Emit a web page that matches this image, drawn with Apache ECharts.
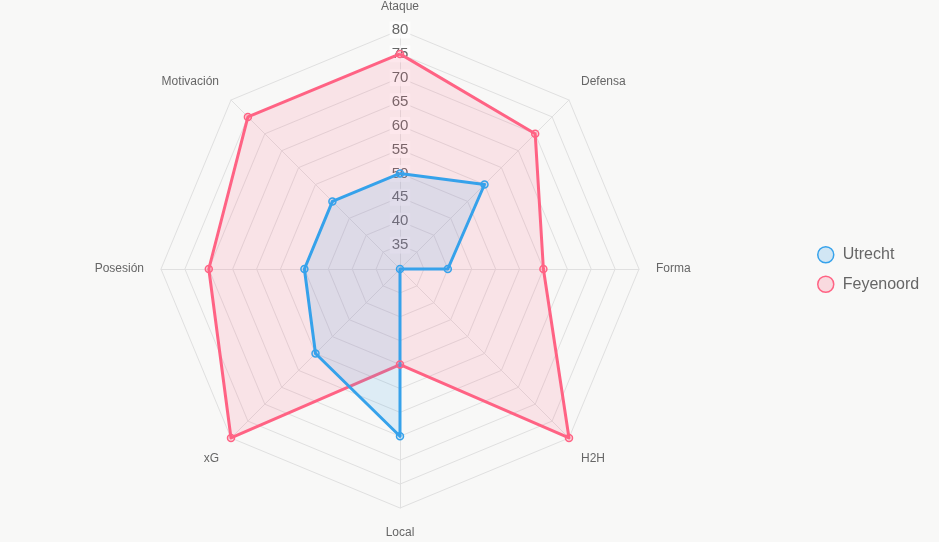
<!DOCTYPE html>
<html>
<head>
<meta charset="utf-8">
<script src="https://cdn.jsdelivr.net/npm/echarts@6/dist/echarts.min.js"></script>
<style>
  html, body { margin: 0; padding: 0; background: #f8f8f7; }
  #main { width: 939px; height: 542px; }
</style>
</head>
<body>
<div id="main"></div>
<script>
// indicator order counter-clockwise from the top (ECharts radar goes ccw)
var categories = ['Ataque', 'Motivación', 'Posesión', 'xG', 'Local', 'H2H', 'Forma', 'Defensa'];
var utrecht   = [50, 50, 50, 55, 65, 30, 40, 55];
var feyenoord = [75, 75, 70, 80, 50, 80, 60, 70];
var scaleMin = 30, scaleMax = 80;

var blue = '#36a2eb', pink = '#ff6384';
var font = 'Liberation Sans, Arial, sans-serif';

// label nudges so the diagonal names sit like the original
var nameStyleKey = {
  'Motivación': 'up', 'Defensa': 'up',
  'xG': 'dn', 'H2H': 'dn',
  'Local': 'dn2'
};

var myChart = echarts.init(document.getElementById('main'));

var indicators = categories.map(function (name, i) {
  var ind = { name: name, min: scaleMin, max: scaleMax };
  if (i === 0) {
    ind.axisLabel = {
      show: true,
      showMinLabel: false,
      color: '#666',
      fontSize: 15,
      fontFamily: font,
      align: 'center',
      verticalAlign: 'middle',
      margin: 0,
      backgroundColor: 'rgba(255,255,255,0.75)',
      padding: [1, 2]
    };
  }
  return ind;
});

var nameRich = {
  up:  { color: '#666', fontSize: 12, fontFamily: font, padding: [0, 0, 12, 0] },
  dn:  { color: '#666', fontSize: 12, fontFamily: font, padding: [17, 0, 0, 0] },
  dn2: { color: '#666', fontSize: 12, fontFamily: font, padding: [2, 0, 0, 0] }
};

myChart.setOption({
  backgroundColor: '#f8f8f7',
  animation: false,
  legend: {
    orient: 'vertical',
    left: 812,
    top: 241,
    itemGap: 12,
    itemWidth: 16,
    itemHeight: 16,
    icon: 'circle',
    textStyle: { color: '#666', fontSize: 16, fontFamily: font, padding: [0, 0, 0, 4] },
    data: [
      { name: 'Utrecht', itemStyle: { color: 'rgba(54,162,235,0.2)', borderColor: blue, borderWidth: 1.5 } },
      { name: 'Feyenoord', itemStyle: { color: 'rgba(255,99,132,0.2)', borderColor: pink, borderWidth: 1.5 } }
    ]
  },
  radar: {
    center: [400, 269],
    radius: 239,
    shape: 'polygon',
    splitNumber: 10,
    indicator: indicators,
    nameGap: 17,
    axisName: {
      color: '#666',
      fontSize: 12,
      fontFamily: font,
      formatter: function (name) {
        var key = nameStyleKey[name];
        return key ? '{' + key + '|' + name + '}' : name;
      },
      rich: nameRich
    },
    axisLabel: { show: false },
    axisLine: { lineStyle: { color: '#e0e0e0', width: 1 } },
    splitLine: { lineStyle: { color: '#e0e0e0', width: 1 } },
    splitArea: { show: false }
  },
  series: [{
    type: 'radar',
    symbol: 'circle',
    symbolSize: 7,
    data: [
      {
        name: 'Feyenoord',
        value: feyenoord,
        lineStyle: { color: pink, width: 3 },
        itemStyle: { color: 'rgba(255,99,132,0.2)', borderColor: pink, borderWidth: 1.5 },
        areaStyle: { color: 'rgba(255,99,132,0.2)' }
      },
      {
        name: 'Utrecht',
        value: utrecht,
        lineStyle: { color: blue, width: 3 },
        itemStyle: { color: 'rgba(54,162,235,0.2)', borderColor: blue, borderWidth: 1.5 },
        areaStyle: { color: 'rgba(54,162,235,0.2)' }
      }
    ]
  }]
});
</script>
</body>
</html>
